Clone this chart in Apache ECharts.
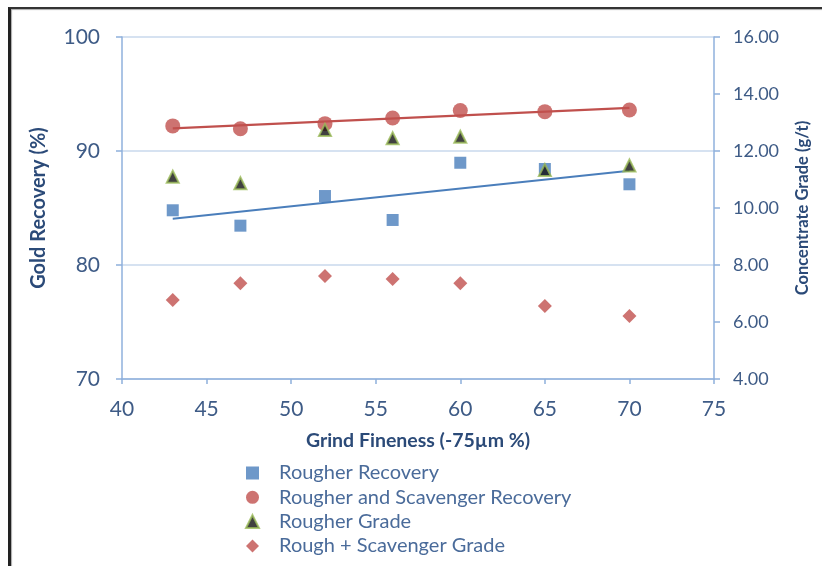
<!DOCTYPE html>
<html>
<head>
<meta charset="utf-8">
<script src="https://cdn.jsdelivr.net/npm/echarts@6/dist/echarts.min.js"></script>
<style>
html,body{margin:0;padding:0;background:#fff;}
#wrap{position:relative;width:822px;height:566px;overflow:hidden;}
#chart{position:absolute;left:0;top:0;width:822px;height:566px;}
#frame{position:absolute;left:8px;top:7px;width:830px;height:580px;border-left:3px solid #222;border-top:2px solid #333;box-shadow:inset 1px 1px 1px #aaa;pointer-events:none;}
</style>
</head>
<body>
<div id="wrap">
<div id="chart"></div>
<div id="frame"></div>
</div>
<script>
// ---- data ----
const grindFineness = [43, 47, 52, 56, 60, 65, 70];
const rougherRecovery = [84.8, 83.45, 86.05, 83.95, 88.97, 88.42, 87.08];
const rougherScavRecovery = [92.2, 91.95, 92.4, 92.9, 93.55, 93.45, 93.6];
const rougherGrade = [11.1, 10.87, 12.74, 12.45, 12.5, 11.33, 11.49];
const roughScavGrade = [6.77, 7.36, 7.61, 7.51, 7.36, 6.56, 6.21];
const seriesNames = ['Rougher Recovery', 'Rougher and Scavenger Recovery', 'Rougher Grade', 'Rough + Scavenger Grade'];
const xAxisRange = [40, 75, 5];
const leftAxisRange = [70, 100, 10];
const rightAxisRange = [4, 16, 2];
const axisTitles = ['Grind Fineness (-75\u00b5m %)', 'Gold Recovery (%)', 'Concentrate Grade (g/t)'];

function pairs(xs, ys) { return xs.map((x, i) => [x, ys[i]]); }
// least-squares linear trendline from the data points
function trend(xs, ys) {
  const n = xs.length;
  const mx = xs.reduce((a, b) => a + b, 0) / n;
  const my = ys.reduce((a, b) => a + b, 0) / n;
  let sxy = 0, sxx = 0;
  for (let i = 0; i < n; i++) { sxy += (xs[i] - mx) * (ys[i] - my); sxx += (xs[i] - mx) ** 2; }
  const b = sxy / sxx, a = my - b * mx;
  const x0 = Math.min(...xs), x1 = Math.max(...xs);
  return [[x0, a + b * x0], [x1, a + b * x1]];
}

const FONT = 'Lato';
const tickColor = '#3e5b86';
const titleColor = '#2b4a78';
const axisLineColor = '#8fb0dc';
const gridColor = '#c9d8ec';

const chart = echarts.init(document.getElementById('chart'), null, {renderer: 'canvas'});
chart.setOption({
  animation: false,
  backgroundColor: '#fff',
  textStyle: {fontFamily: FONT},
  grid: {left: 122, right: 108, top: 37, bottom: 187},
  legend: {
    orient: 'vertical',
    left: 240,
    top: 458,
    height: 110,
    itemWidth: 13,
    itemHeight: 13,
    itemGap: 4.3,
    data: seriesNames,
    textStyle: {fontFamily: FONT, fontSize: 20, lineHeight: 18, color: '#4a6b9a', padding: [0, 0, 0, 15]}
  },
  xAxis: {
    type: 'value',
    min: xAxisRange[0], max: xAxisRange[1], interval: xAxisRange[2],
    name: axisTitles[0],
    nameLocation: 'middle',
    nameGap: 52,
    nameTextStyle: {fontFamily: FONT, fontSize: 19.5, fontWeight: 'bold', color: titleColor},
    axisLine: {show: true, lineStyle: {color: axisLineColor, width: 1.5}},
    axisTick: {show: true, length: 5, lineStyle: {color: axisLineColor, width: 1.5}},
    axisLabel: {fontSize: 21, color: tickColor, margin: 20},
    splitLine: {show: false}
  },
  yAxis: [{
    type: 'value',
    min: leftAxisRange[0], max: leftAxisRange[1], interval: leftAxisRange[2],
    name: axisTitles[1],
    nameLocation: 'middle',
    nameGap: 73,
    nameTextStyle: {fontFamily: FONT, fontSize: 20, fontWeight: 'bold', color: titleColor},
    axisLine: {show: true, lineStyle: {color: axisLineColor, width: 1.5}},
    axisTick: {show: true, length: 6, lineStyle: {color: axisLineColor, width: 1.5}},
    axisLabel: {fontSize: 21, color: tickColor, margin: 22},
    splitLine: {show: true, lineStyle: {color: gridColor, width: 1.5}}
  }, {
    type: 'value',
    position: 'right',
    min: rightAxisRange[0], max: rightAxisRange[1], interval: rightAxisRange[2],
    name: axisTitles[2],
    nameLocation: 'middle',
    nameGap: 80,
    nameRotate: 90,
    nameTextStyle: {fontFamily: FONT, fontSize: 16.5, fontWeight: 'bold', color: titleColor},
    axisLine: {show: true, lineStyle: {color: axisLineColor, width: 1.5}},
    axisTick: {show: true, length: 6, lineStyle: {color: axisLineColor, width: 1.5}},
    axisLabel: {fontSize: 18, color: tickColor, margin: 19, formatter: v => v.toFixed(2)},
    splitLine: {show: false}
  }],
  series: [
    {
      name: 'trend-rr', type: 'line', yAxisIndex: 0, showSymbol: false, silent: true,
      data: trend(grindFineness, rougherRecovery),
      lineStyle: {color: '#4a7ebb', width: 2}, z: 1
    },
    {
      name: 'trend-rsr', type: 'line', yAxisIndex: 0, showSymbol: false, silent: true,
      data: trend(grindFineness, rougherScavRecovery),
      lineStyle: {color: '#c0504d', width: 2.2}, z: 1
    },
    {
      name: seriesNames[0], type: 'scatter', yAxisIndex: 0, symbol: 'rect', symbolSize: 12,
      data: pairs(grindFineness, rougherRecovery),
      itemStyle: {color: '#4a7ebb'}, z: 3
    },
    {
      name: seriesNames[1], type: 'scatter', yAxisIndex: 0, symbol: 'circle', symbolSize: 15,
      data: pairs(grindFineness, rougherScavRecovery),
      itemStyle: {color: '#c0504d'}, z: 3
    },
    {
      name: seriesNames[2], type: 'scatter', yAxisIndex: 1, symbol: 'triangle', symbolSize: 12,
      data: pairs(grindFineness, rougherGrade),
      itemStyle: {color: '#111', borderColor: '#9bbb59', borderWidth: 2}, z: 4
    },
    {
      name: seriesNames[3], type: 'scatter', yAxisIndex: 1, symbol: 'diamond', symbolSize: 14,
      data: pairs(grindFineness, roughScavGrade),
      itemStyle: {color: '#c0504d'}, z: 3
    }
  ]
});
</script>
</body>
</html>
